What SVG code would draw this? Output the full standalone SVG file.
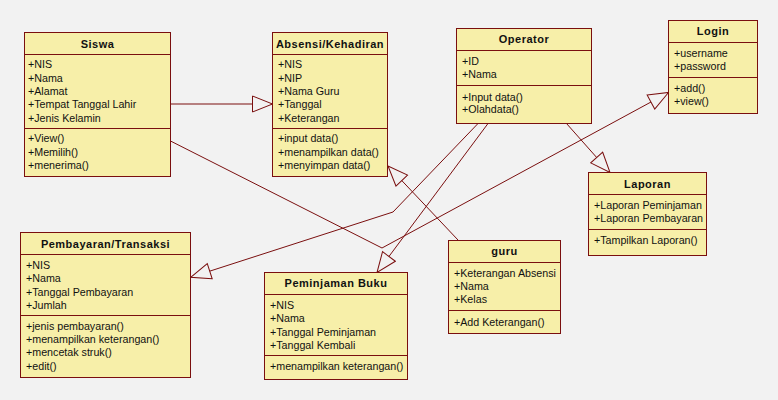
<svg xmlns="http://www.w3.org/2000/svg" width="778" height="400" viewBox="0 0 778 400">
<style>
.box{fill:#f7efa9;stroke:#7a0f0f;stroke-width:1}
.sep{stroke:#7a0f0f;stroke-width:1}
.t{font-family:"Liberation Sans",Arial,sans-serif;font-size:10.7px;fill:#111}
.h{font-family:"Liberation Sans",Arial,sans-serif;font-size:11px;font-weight:bold;fill:#111;text-anchor:middle;letter-spacing:0.5px}
.c{fill:none;stroke:#7a0f0f;stroke-width:1;marker-end:url(#tri)}
</style>
<defs>
<marker id="tri" markerUnits="userSpaceOnUse" viewBox="-1 -1 22 18" markerWidth="22" markerHeight="18" refX="20" refY="8" orient="auto">
<path d="M0,0 L20,8 L0,16 Z" fill="#f2f2f2" stroke="#7a0f0f" stroke-width="1"/>
</marker>
</defs>
<rect width="778" height="400" fill="#f2f2f2"/>

<g id="connectors">
<polyline class="c" points="170.5,104 252,104 272.5,104"/>
<polyline class="c" points="170.5,141 382,248 668.5,92.5"/>
<polyline class="c" points="478,123.5 393,212 190.7,277.3"/>
<polyline class="c" points="488,123.5 377,272.5"/>
<polyline class="c" points="566.5,123.5 610,172.5"/>
<polyline class="c" points="458,240 388,166"/>
</g>

<g id="siswa">
<rect class="box" x="24.5" y="32.5" width="146" height="144"/>
<line class="sep" x1="24.5" y1="54.5" x2="170.5" y2="54.5"/>
<line class="sep" x1="24.5" y1="128.5" x2="170.5" y2="128.5"/>
<text class="h" x="97.5" y="47.5">Siswa</text>
<text class="t" x="28" y="68.3">+NIS</text>
<text class="t" x="28" y="81.6">+Nama</text>
<text class="t" x="28" y="94.9">+Alamat</text>
<text class="t" x="28" y="108.2">+Tempat Tanggal Lahir</text>
<text class="t" x="28" y="121.5">+Jenis Kelamin</text>
<text class="t" x="28" y="142.3">+View()</text>
<text class="t" x="28" y="155.6">+Memilih()</text>
<text class="t" x="28" y="168.9">+menerima()</text>
</g>

<g id="absensi">
<rect class="box" x="272.5" y="32.5" width="115" height="144"/>
<line class="sep" x1="272.5" y1="54.5" x2="387.5" y2="54.5"/>
<line class="sep" x1="272.5" y1="128.5" x2="387.5" y2="128.5"/>
<text class="h" x="330" y="47.5">Absensi/Kehadiran</text>
<text class="t" x="278" y="68.3">+NIS</text>
<text class="t" x="278" y="81.6">+NIP</text>
<text class="t" x="278" y="94.9">+Nama Guru</text>
<text class="t" x="278" y="108.2">+Tanggal</text>
<text class="t" x="278" y="121.5">+Keterangan</text>
<text class="t" x="278" y="142.3">+input data()</text>
<text class="t" x="278" y="155.6">+menampilkan data()</text>
<text class="t" x="278" y="168.9">+menyimpan data()</text>
</g>

<g id="operator">
<rect class="box" x="456.5" y="28.5" width="135" height="95"/>
<line class="sep" x1="456.5" y1="50.5" x2="591.5" y2="50.5"/>
<line class="sep" x1="456.5" y1="85.5" x2="591.5" y2="85.5"/>
<text class="h" x="524" y="43">Operator</text>
<text class="t" x="462" y="65.3">+ID</text>
<text class="t" x="462" y="78.3">+Nama</text>
<text class="t" x="462" y="100.5">+Input data()</text>
<text class="t" x="462" y="113.3">+Olahdata()</text>
</g>

<g id="login">
<rect class="box" x="668.5" y="20.5" width="89" height="93"/>
<line class="sep" x1="668.5" y1="42.5" x2="757.5" y2="42.5"/>
<line class="sep" x1="668.5" y1="77.5" x2="757.5" y2="77.5"/>
<text class="h" x="713" y="35">Login</text>
<text class="t" x="674" y="57.3">+username</text>
<text class="t" x="674" y="70">+password</text>
<text class="t" x="674" y="92.3">+add()</text>
<text class="t" x="674" y="104.8">+view()</text>
</g>

<g id="laporan">
<rect class="box" x="588.5" y="172.5" width="118" height="83"/>
<line class="sep" x1="588.5" y1="194.5" x2="706.5" y2="194.5"/>
<line class="sep" x1="588.5" y1="229.5" x2="706.5" y2="229.5"/>
<text class="h" x="647.5" y="187.5">Laporan</text>
<text class="t" x="594" y="209">+Laporan Peminjaman</text>
<text class="t" x="594" y="222.3">+Laporan Pembayaran</text>
<text class="t" x="594" y="244">+Tampilkan Laporan()</text>
</g>

<g id="guru">
<rect class="box" x="448.5" y="240.5" width="112" height="93"/>
<line class="sep" x1="448.5" y1="262.5" x2="560.5" y2="262.5"/>
<line class="sep" x1="448.5" y1="310.5" x2="560.5" y2="310.5"/>
<text class="h" x="504.5" y="255">guru</text>
<text class="t" x="454" y="277.3">+Keterangan Absensi</text>
<text class="t" x="454" y="290.3">+Nama</text>
<text class="t" x="454" y="303.3">+Kelas</text>
<text class="t" x="454" y="325.7">+Add Keterangan()</text>
</g>

<g id="pembayaran">
<rect class="box" x="20.5" y="232.5" width="170" height="145"/>
<line class="sep" x1="20.5" y1="254.5" x2="190.5" y2="254.5"/>
<line class="sep" x1="20.5" y1="315.5" x2="190.5" y2="315.5"/>
<text class="h" x="105.5" y="247.5">Pembayaran/Transaksi</text>
<text class="t" x="26" y="269">+NIS</text>
<text class="t" x="26" y="282.3">+Nama</text>
<text class="t" x="26" y="295.6">+Tanggal Pembayaran</text>
<text class="t" x="26" y="308.9">+Jumlah</text>
<text class="t" x="26" y="329.7">+jenis pembayaran()</text>
<text class="t" x="26" y="343">+menampilkan keterangan()</text>
<text class="t" x="26" y="356.3">+mencetak struk()</text>
<text class="t" x="26" y="369.6">+edit()</text>
</g>

<g id="peminjaman">
<rect class="box" x="264.5" y="272.5" width="143" height="107"/>
<line class="sep" x1="264.5" y1="294.5" x2="407.5" y2="294.5"/>
<line class="sep" x1="264.5" y1="355.5" x2="407.5" y2="355.5"/>
<text class="h" x="336" y="287">Peminjaman Buku</text>
<text class="t" x="270" y="309">+NIS</text>
<text class="t" x="270" y="322.3">+Nama</text>
<text class="t" x="270" y="335.6">+Tanggal Peminjaman</text>
<text class="t" x="270" y="348.9">+Tanggal Kembali</text>
<text class="t" x="270" y="369.7">+menampilkan keterangan()</text>
</g>
</svg>
